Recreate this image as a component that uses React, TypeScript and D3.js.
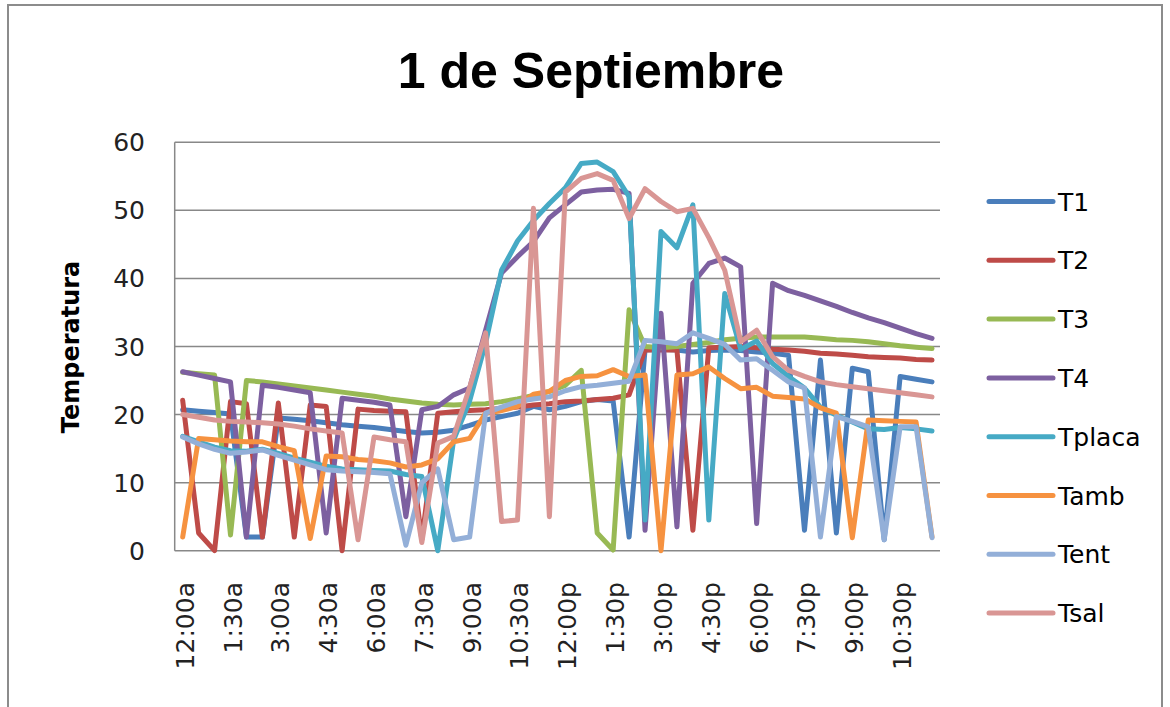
import React from "react";
import { scaleBand, scaleLinear, line } from "d3";

const times = [
  "12:00a", "12:30a", "1:00a", "1:30a", "2:00a", "2:30a", "3:00a", "3:30a", "4:00a", "4:30a", "5:00a", "5:30a",
  "6:00a", "6:30a", "7:00a", "7:30a", "8:00a", "8:30a", "9:00a", "9:30a", "10:00a", "10:30a", "11:00a", "11:30a",
  "12:00p", "12:30p", "1:00p", "1:30p", "2:00p", "2:30p", "3:00p", "3:30p", "4:00p", "4:30p", "5:00p", "5:30p",
  "6:00p", "6:30p", "7:00p", "7:30p", "8:00p", "8:30p", "9:00p", "9:30p", "10:00p", "10:30p", "11:00p", "11:30p",
];

const T1 = [20.7, 20.5, 20.3, 20.1, 2, 2, 19.5, 19.3, 19.1, 18.8, 18.5, 18.3, 18.1, 17.8, 17.5, 17.3, 17.4, 17.7, 18.4, 19.2, 19.7, 20.2, 21.2, 20.7, 21.2, 21.9, 22.2, 22, 2, 29.5, 29.6, 29.5, 29.2, 29.4, 29.5, 29.4, 29.2, 29, 28.7, 3, 28, 2.6, 26.8, 26.3, 1.6, 25.6, 25.2, 24.8];
const T2 = [22.1, 2.6, 0, 21.9, 21.6, 2, 21.7, 2, 21.4, 21.2, 0, 20.8, 20.6, 20.5, 20.4, 1.6, 20.2, 20.4, 20.6, 20.7, 20.9, 21.1, 21.4, 21.6, 21.9, 22, 22.2, 22.4, 22.9, 29.5, 29.5, 29.5, 3, 29.8, 29.9, 30, 29.8, 29.6, 29.5, 29.3, 29, 28.9, 28.7, 28.5, 28.4, 28.3, 28.1, 28];
const T3 = [26.2, 26, 25.8, 2.3, 25, 24.8, 24.5, 24.2, 23.9, 23.6, 23.3, 23, 22.7, 22.3, 22, 21.7, 21.5, 21.4, 21.5, 21.6, 21.9, 22.3, 22.8, 23.4, 24.3, 26.5, 2.6, 0.1, 35.4, 30, 29.8, 30, 30.3, 30.6, 31, 31.2, 31.4, 31.4, 31.4, 31.4, 31.2, 31, 30.9, 30.7, 30.4, 30.1, 29.9, 29.7];
const T4 = [26.3, 25.8, 25.3, 24.8, 2, 24.3, 24, 23.6, 23.2, 2.6, 22.4, 22.1, 21.8, 21.4, 5, 20.7, 21.2, 22.9, 23.9, 32.4, 40.8, 43.2, 45.4, 48.9, 50.8, 52.7, 53, 53.1, 52.5, 3, 34.9, 3.5, 39.3, 42.2, 43, 41.7, 4, 39.3, 38.2, 37.5, 36.7, 35.9, 35, 34.2, 33.5, 32.7, 31.9, 31.2];
const Tplaca = [16.8, 16, 15.2, 14.7, 14.6, 14.9, 14.3, 13.6, 13, 12.4, 12, 11.9, 11.8, 11.7, 11.2, 10.9, 0, 16.3, 22, 30.5, 41.2, 45.5, 48.5, 51, 53.3, 56.9, 57.1, 55.7, 52, 4.5, 46.9, 44.5, 50.8, 4.5, 37.8, 29.6, 30.8, 27.5, 25.6, 23.9, 21.1, 19.9, 18.9, 17.9, 17.8, 18.1, 17.9, 17.6];
const Tamb = [2, 16.5, 16.3, 16.1, 16, 16, 15.3, 14.7, 1.8, 13.9, 13.8, 13.4, 13.2, 12.9, 12.3, 12.6, 13.5, 16, 16.5, 20.2, 20.6, 21.2, 23, 23.4, 25, 25.6, 25.7, 26.6, 25.6, 25.8, 0, 25.8, 26, 27, 25.3, 23.8, 24, 22.7, 22.5, 22.3, 21, 20.2, 1.9, 19.2, 19.1, 19, 18.9, 2];
const Tent = [16.7, 15.7, 14.9, 14.3, 14.5, 14.8, 14, 13.3, 12.6, 11.9, 11.7, 11.6, 11.5, 11.3, 0.8, 10, 12, 1.6, 2, 20.2, 21.1, 21.9, 22.3, 22.6, 23.5, 24.1, 24.3, 24.6, 24.9, 30.9, 30.7, 30.4, 32, 31.2, 30.3, 28, 28.2, 26.5, 24.8, 23.9, 2, 19.7, 19, 18.2, 1.6, 18.2, 18.2, 1.9];
const Tsal = [20, 19.6, 19.2, 19, 18.9, 18.8, 18.6, 18.3, 17.9, 17.6, 17.3, 1.6, 16.7, 16.3, 16, 1.2, 15.8, 16.8, 24, 32, 4.3, 4.5, 50.3, 5, 52.7, 54.7, 55.4, 54.4, 48.8, 53.2, 51.3, 49.8, 50.3, 46, 41.2, 30.7, 32.4, 28.5, 26.5, 25.6, 24.8, 24.4, 24.1, 23.8, 23.5, 23.2, 22.9, 22.6];

const seriesNames = ["T1", "T2", "T3", "T4", "Tplaca", "Tamb", "Tent", "Tsal"];
const seriesValues = [T1, T2, T3, T4, Tplaca, Tamb, Tent, Tsal];
const seriesColors = ["#4A7EBB", "#BE4B48", "#98B954", "#7D60A0", "#46AAC5", "#F69240", "#93AFD8", "#D99694"];
const yTicks = [0, 10, 20, 30, 40, 50, 60];

const left = 174.7, right = 940, top = 142.3, bottom = 550.7;

export default function App() {
  const x = scaleBand().domain(times).range([left, right]).padding(0);
  const y = scaleLinear().domain([0, 60]).range([bottom, top]);
  const cx = (t) => x(t) + x.bandwidth() / 2;
  const lineGen = line().x((d) => cx(d[0])).y((d) => y(d[1]));

  return (
    <div style={{ position: "absolute", left: 0, top: 0 }}>
      <style>{"body{margin:0}"}</style>
      <svg width={1170} height={707} style={{ display: "block", background: "#fff" }}>
        <rect x={8} y={5} width={1154} height={720} fill="#fff" stroke="#8c8c8c" strokeWidth={2} />
        <text x={591} y={88} textAnchor="middle" fontFamily="Liberation Sans, Arial, sans-serif" fontWeight="bold" fontSize={50} fill="#000">
          1 de Septiembre
        </text>

        {yTicks.map((t) => (
          <g key={t}>
            <line x1={left} x2={right} y1={y(t)} y2={y(t)} stroke="#888" strokeWidth={1.5} />
            <text x={145} y={y(t)} dy="0.36em" textAnchor="end" fontFamily="DejaVu Sans" fontSize={25} fill="#222">
              {t}
            </text>
          </g>
        ))}
        <line x1={left} x2={left} y1={top} y2={bottom} stroke="#888" strokeWidth={1.5} />

        {times.map((t, i) =>
          i % 3 === 0 ? (
            <text key={t} transform={`translate(${cx(t) + 2},582) rotate(-90)`} textAnchor="end" dy="0.36em" fontFamily="DejaVu Sans" fontSize={25} fill="#222">
              {t}
            </text>
          ) : null
        )}

        <text transform="translate(70,347) rotate(-90)" textAnchor="middle" dy="0.36em" fontFamily="DejaVu Sans" fontWeight="bold" fontSize={24} fill="#000">
          Temperatura
        </text>

        {seriesValues.map((vals, k) => (
          <path
            key={seriesNames[k]}
            d={lineGen(vals.map((v, i) => [times[i], v]))}
            fill="none"
            stroke={seriesColors[k]}
            strokeWidth={5}
            strokeLinejoin="round"
            strokeLinecap="round"
          />
        ))}

        {seriesNames.map((n, k) => {
          const ly = 201.5 + k * 58.8;
          return (
            <g key={n}>
              <line x1={989} x2={1053} y1={ly} y2={ly} stroke={seriesColors[k]} strokeWidth={5} strokeLinecap="round" />
              <text x={1058} y={ly} dy="0.36em" fontFamily="DejaVu Sans" fontSize={25} fill="#000">
                {n}
              </text>
            </g>
          );
        })}
      </svg>
    </div>
  );
}
